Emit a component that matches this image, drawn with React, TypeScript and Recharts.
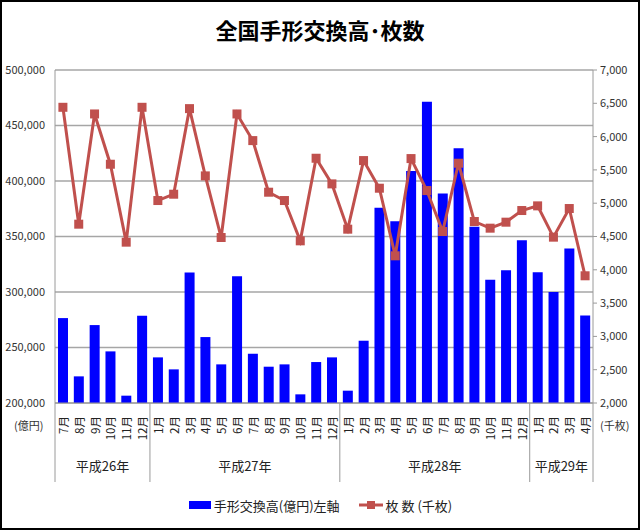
import React from "react";
import {
  ComposedChart,
  Bar,
  Line,
  XAxis,
  YAxis,
  CartesianGrid,
  Legend,
} from "recharts";

const months = [
  "7月", "8月", "9月", "10月", "11月", "12月",
  "1月", "2月", "3月", "4月", "5月", "6月", "7月", "8月", "9月", "10月", "11月", "12月",
  "1月", "2月", "3月", "4月", "5月", "6月", "7月", "8月", "9月", "10月", "11月", "12月",
  "1月", "2月", "3月", "4月",
];

const yearLabels = ["平成26年", "平成27年", "平成28年", "平成29年"];
const yearCounts = [6, 12, 12, 4];

// 手形交換高 (億円)
const amounts = [
  276500, 224000, 270200, 246500, 206600, 278600,
  241100, 230300, 317600, 259400, 234800, 314300, 244400, 232700, 234800, 207800, 236900, 241100,
  211100, 256100, 375800, 363800, 409100, 471500, 388700, 429500, 358800, 311000, 319700, 346700,
  317900, 299900, 339200, 278900,
];

// 枚数 (千枚)
const counts = [
  6440, 4685, 6340, 5585, 4415, 6440,
  5040, 5135, 6420, 5410, 4485, 6340, 5940, 5165, 5040, 4435, 5675, 5290,
  4610, 5640, 5225, 4210, 5670, 5190, 4575, 5600, 4725, 4625, 4715, 4890,
  4960, 4490, 4920, 3910,
];

const leftTicks = [200000, 250000, 300000, 350000, 400000, 450000, 500000];
const rightTicks = [2000, 2500, 3000, 3500, 4000, 4500, 5000, 5500, 6000, 6500, 7000];

const data = months.map((m, i) => ({ month: m, amount: amounts[i], count: counts[i] }));

const FONT = '"Noto Sans CJK JP", "Noto Sans", sans-serif';
const CHART_W = 640;
const CHART_H = 530;
const LEFT_W = 55;
const RIGHT_W = 47;
const PLOT_W = CHART_W - LEFT_W - RIGHT_W;
const BAND = PLOT_W / months.length;

const groupStarts: number[] = [];
{
  let s = 0;
  yearCounts.forEach((c) => {
    groupStarts.push(s);
    s += c;
  });
}

const fmt = (v: number) => v.toLocaleString("en-US");

const MonthTick = (props: any) => {
  const { x, y, payload } = props;
  const idx = payload.index as number;
  const gi = groupStarts.indexOf(idx);
  const items: React.ReactNode[] = [];
  items.push(
    <text
      key="m"
      x={x}
      y={y + 13}
      transform={`rotate(-90, ${x}, ${y + 13})`}
      textAnchor="end"
      dominantBaseline="central"
      fontSize={11.5}
      fill="#222"
      fontFamily={FONT}
    >
      {payload.value}
    </text>
  );
  if (gi >= 0) {
    const left = x - BAND / 2;
    items.push(
      <line key="sep" x1={left} x2={left} y1={y} y2={y + 79} stroke="#9a9a9a" strokeWidth={1} />
    );
    const cx = left + (yearCounts[gi] * BAND) / 2;
    items.push(
      <text
        key="y"
        x={cx}
        y={y + 68}
        textAnchor="middle"
        fontSize={13}
        fill="#222"
        fontFamily={FONT}
      >
        {yearLabels[gi]}
      </text>
    );
  }
  if (idx === months.length - 1) {
    const right = x + BAND / 2;
    items.push(
      <line key="sepR" x1={right} x2={right} y1={y} y2={y + 79} stroke="#9a9a9a" strokeWidth={1} />
    );
  }
  return <g>{items}</g>;
};

const LegendContent = () => (
  <div
    style={{
      display: "flex",
      justifyContent: "center",
      alignItems: "center",
      fontFamily: FONT,
      fontSize: 13,
      color: "#222",
      height: 30,
    }}
  >
    <svg width={24} height={10} style={{ marginRight: 2 }}>
      <rect x={1} y={1} width={22} height={8} fill="#0000ff" />
    </svg>
    <span>手形交換高(億円)左軸</span>
    <svg width={26} height={10} style={{ marginLeft: 18, marginRight: 2 }}>
      <line x1={1} x2={25} y1={5} y2={5} stroke="#c0504d" strokeWidth={3} />
      <rect x={9} y={1} width={8} height={8} fill="#c0504d" />
    </svg>
    <span>枚 数 (千枚)</span>
  </div>
);

const SquareDot = (props: any) => {
  const { cx, cy } = props;
  if (cx == null || cy == null) return null;
  return <rect x={cx - 4.5} y={cy - 4.5} width={9} height={9} fill="#c0504d" />;
};

export default function App() {
  return (
    <div
      style={{
        position: "fixed",
        left: 0,
        top: 0,
        width: CHART_W,
        height: CHART_H,
        background: "#fff",
      }}
    >
      <div
        style={{
          position: "absolute",
          top: 15,
          left: 0,
          width: CHART_W,
          textAlign: "center",
          fontFamily: FONT,
          fontWeight: 700,
          fontSize: 22,
          color: "#000",
          lineHeight: "28px",
          zIndex: 2,
        }}
      >
        全国手形交換高･枚数
      </div>
      <ComposedChart
        width={CHART_W}
        height={CHART_H}
        data={data}
        margin={{ top: 70, right: 0, bottom: 10, left: 0 }}
        barCategoryGap={0}
      >
        <CartesianGrid yAxisId="left" vertical={false} stroke="#a6a6a6" strokeWidth={1.3} />
        <XAxis
          dataKey="month"
          interval={0}
          tickLine={false}
          tickSize={0}
          tickMargin={0}
          axisLine={{ stroke: "#9a9a9a" }}
          height={87}
          tick={<MonthTick />}
        />
        <YAxis
          yAxisId="left"
          orientation="left"
          width={LEFT_W}
          domain={[200000, 500000]}
          ticks={leftTicks}
          tickFormatter={fmt}
          tickLine={false}
          axisLine={{ stroke: "#9a9a9a" }}
          tick={{ fontSize: 11, fill: "#333", fontFamily: FONT }}
          tickMargin={4}
          interval={0}
        />
        <YAxis
          yAxisId="right"
          orientation="right"
          width={RIGHT_W}
          domain={[2000, 7000]}
          ticks={rightTicks}
          tickFormatter={fmt}
          tickLine={{ stroke: "#9a9a9a" }}
          tickSize={4}
          axisLine={{ stroke: "#9a9a9a" }}
          tick={{ fontSize: 11, fill: "#333", fontFamily: FONT }}
          tickMargin={3}
          interval={0}
        />
        <Legend verticalAlign="bottom" height={30} content={<LegendContent />} />
        <Bar
          yAxisId="left"
          dataKey="amount"
          fill="#0000ff"
          barSize={10}
          isAnimationActive={false}
        />
        <Line
          yAxisId="right"
          dataKey="count"
          stroke="#c0504d"
          strokeWidth={3}
          dot={<SquareDot />}
          activeDot={false}
          isAnimationActive={false}
        />
      </ComposedChart>
      <div
        style={{
          position: "absolute",
          left: 14,
          top: 417,
          fontFamily: FONT,
          fontSize: 11,
          color: "#333",
        }}
      >
        (億円)
      </div>
      <div
        style={{
          position: "absolute",
          left: 600,
          top: 417,
          fontFamily: FONT,
          fontSize: 11,
          color: "#333",
        }}
      >
        (千枚)
      </div>
      <div
        style={{
          position: "absolute",
          left: 0,
          top: 0,
          width: CHART_W,
          height: CHART_H,
          boxSizing: "border-box",
          border: "2px solid #000",
          pointerEvents: "none",
        }}
      />
    </div>
  );
}
